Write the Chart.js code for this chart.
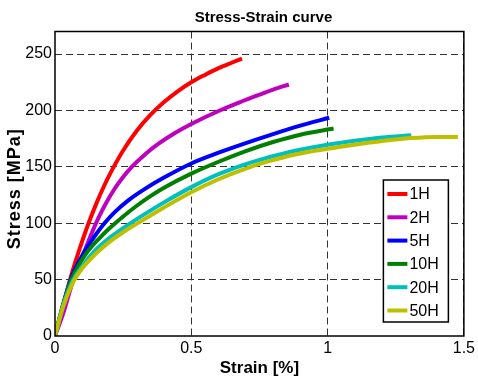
<!DOCTYPE html>
<html>
<head>
<meta charset="utf-8">
<script src="https://cdn.jsdelivr.net/npm/chart.js@4"></script>
<style>
  body { margin: 0; background: #fff; }
  #wrap { width: 478px; height: 381px; }
</style>
</head>
<body>
<div id="wrap"><canvas id="chart1" width="478" height="381"></canvas></div>
<script>
// values (strain in %, stress in MPa)
const seriesNames = ['1H', '2H', '5H', '10H', '20H', '50H'];
const seriesColors = ['#ff0000', '#bf00bf', '#0000ff', '#008000', '#00bfbf', '#bfbf00'];

const strain1H = [0, 0.03, 0.06, 0.09, 0.12, 0.15, 0.18, 0.21, 0.25, 0.3, 0.35, 0.4, 0.45, 0.5, 0.55, 0.6, 0.65, 0.686];
const stress1H = [0, 27, 54, 77, 98, 116.5, 133, 147.5, 164.5, 182, 196, 207.5, 217, 225, 231.5, 237.5, 242.5, 246];

const strain2H = [0, 0.03, 0.065, 0.1, 0.13, 0.16, 0.19, 0.22, 0.25, 0.28, 0.33, 0.38, 0.44, 0.5, 0.6, 0.675, 0.75, 0.8, 0.858];
const stress2H = [0, 20, 48, 70, 88.5, 105, 119, 131, 141, 149.5, 161, 170.5, 180, 188, 199.5, 207, 214, 218.5, 223];

const strain5H = [0, 0.03, 0.06, 0.09, 0.12, 0.15, 0.18, 0.22, 0.27, 0.33, 0.4, 0.5, 0.6, 0.7, 0.8, 0.9, 1.006];
const stress5H = [0, 28, 52, 67, 79.5, 90, 99.5, 110, 120.5, 130.5, 140.5, 153, 162.5, 171, 179, 186.5, 193.5];

const strain10H = [0, 0.03, 0.06, 0.09, 0.12, 0.16, 0.2, 0.25, 0.3, 0.35, 0.4, 0.5, 0.6, 0.7, 0.8, 0.9, 1.022];
const stress10H = [0, 28, 50, 64, 75, 86, 95.5, 106, 115.5, 124, 131.5, 144, 154.5, 164, 172, 178.5, 184];

const strain20H = [0, 0.03, 0.065, 0.1, 0.14, 0.2, 0.28, 0.4, 0.5, 0.6, 0.72, 0.85, 1.0, 1.113, 1.2, 1.307];
const stress20H = [0, 27, 49, 62, 74, 87, 100.5, 118.5, 132, 143.5, 154, 162.5, 169.5, 173.5, 176, 178];

const strain50H = [0, 0.03, 0.067, 0.1, 0.15, 0.2, 0.25, 0.31, 0.4, 0.5, 0.6, 0.7, 0.785, 0.882, 1.0, 1.124, 1.2, 1.307, 1.4, 1.478];
const stress50H = [0, 26, 48, 60, 73, 83.5, 92, 101, 114, 127.5, 139, 148.5, 155, 161, 166, 170.5, 173, 175.5, 176.5, 176.5];

const xTicks = [0, 0.5, 1, 1.5];
const yTicks = [0, 50, 100, 150, 200, 250];

const strains = [strain1H, strain2H, strain5H, strain10H, strain20H, strain50H];
const stresses = [stress1H, stress2H, stress5H, stress10H, stress20H, stress50H];

const datasets = seriesNames.map((name, i) => ({
    label: name,
    data: strains[i].map((x, j) => ({ x: x, y: stresses[i][j] })),
    borderColor: seriesColors[i],
    backgroundColor: seriesColors[i],
    borderWidth: 4,
    pointRadius: 0,
    showLine: true,
    cubicInterpolationMode: 'monotone',
    order: seriesNames.length - i
}));

const gridColor = (ctx) => (ctx.tick && ctx.tick.value === 0) ? 'rgba(0,0,0,0)' : '#333';

// frame, titles and legend
const decorations = {
    id: 'decorations',
    afterDatasetsDraw(chart) {
        const { ctx, chartArea: a } = chart;
        ctx.save();
        ctx.strokeStyle = '#000';
        ctx.lineWidth = 1.5;
        ctx.strokeRect(a.left, a.top, a.right - a.left, a.bottom - a.top);

        ctx.fillStyle = '#000';
        ctx.textAlign = 'center';
        ctx.textBaseline = 'middle';
        const cx = (a.left + a.right) / 2;
        ctx.font = 'bold 15px "Liberation Sans", Arial, sans-serif';
        ctx.fillText('Stress-Strain curve', cx + 4, 18);
        ctx.font = 'bold 17px "Liberation Sans", Arial, sans-serif';
        ctx.fillText('Strain [%]', cx, a.bottom + 32);

        ctx.save();
        ctx.translate(15, (a.top + a.bottom) / 2 + 5);
        ctx.rotate(-Math.PI / 2);
        ctx.font = 'bold 18px "Liberation Sans", Arial, sans-serif';
        ctx.letterSpacing = '1px';
        ctx.fillText('Stress [MPa]', 0, 0);
        ctx.restore();

        // legend box
        const w = 65, h = 142;
        const lx = a.right - 15.5 - w, ly = a.bottom - 14 - h;
        ctx.fillStyle = '#fff';
        ctx.fillRect(lx, ly, w, h);
        ctx.lineWidth = 1.5;
        ctx.strokeRect(lx, ly, w, h);
        ctx.font = '16px "Liberation Sans", Arial, sans-serif';
        ctx.textAlign = 'left';
        chart.data.datasets.forEach((ds, i) => {
            const y = ly + 14 + i * 23.3;
            ctx.strokeStyle = ds.borderColor;
            ctx.lineWidth = 4;
            ctx.beginPath();
            ctx.moveTo(lx + 4, y);
            ctx.lineTo(lx + 24, y);
            ctx.stroke();
            ctx.fillStyle = '#000';
            ctx.fillText(ds.label, lx + 26, y + 1);
        });
        ctx.restore();
    }
};

const chart1 = new Chart(document.getElementById('chart1').getContext('2d'), {
    type: 'scatter',
    data: { datasets: datasets },
    options: {
        responsive: false,
        animation: false,
        layout: { padding: { top: 31.5, right: 11.5, bottom: 0, left: 0 } },
        scales: {
            x: {
                type: 'linear',
                min: 0,
                max: 1.5,
                afterFit: (s) => { s.height = 45; },
                afterBuildTicks: (s) => { s.ticks = xTicks.map(v => ({ value: v })); },
                ticks: {
                    color: '#000',
                    padding: 3,
                    maxRotation: 0,
                    font: { size: 16, family: '"Liberation Sans", Arial, sans-serif' },
                    callback: (v) => String(v)
                },
                grid: { color: gridColor, drawTicks: false, lineWidth: 1 },
                border: { display: false, dash: [7, 4] }
            },
            y: {
                min: 0,
                max: 270,
                afterFit: (s) => { s.width = 55; },
                afterBuildTicks: (s) => { s.ticks = yTicks.map(v => ({ value: v })); },
                ticks: {
                    color: '#000',
                    padding: 3,
                    font: { size: 16, family: '"Liberation Sans", Arial, sans-serif' }
                },
                grid: { color: gridColor, drawTicks: false, lineWidth: 1 },
                border: { display: false, dash: [7, 4] }
            }
        },
        plugins: {
            legend: { display: false },
            tooltip: { enabled: false }
        }
    },
    plugins: [decorations]
});
</script>
</body>
</html>
